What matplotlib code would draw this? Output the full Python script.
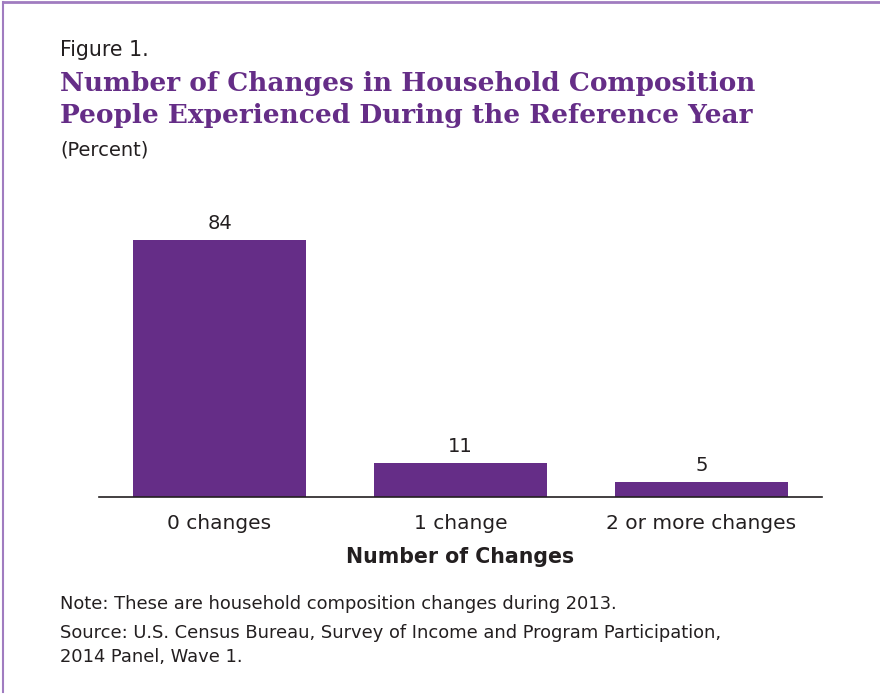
import matplotlib
matplotlib.use("Agg")
import matplotlib.pyplot as plt
from matplotlib.lines import Line2D

categories = ["0 changes", "1 change", "2 or more changes"]
values = [84, 11, 5]
value_labels = ["84", "11", "5"]

purple = "#652d87"
border = "#a07cc0"
text_col = "#231f20"

W, H = 880, 694
fig = plt.figure(figsize=(W / 100, H / 100), dpi=100)
fig.patch.set_facecolor("white")

def fx(px):
    return px / W

def fy(py):
    return 1 - py / H

# frame lines (top and left)
fig.add_artist(Line2D([fx(3), 1], [fy(1.5), fy(1.5)], color=border, lw=2))
fig.add_artist(Line2D([fx(3), fx(3)], [fy(1.5), fy(692)], color=border, lw=1.5))

sans = "DejaVu Sans"
fig.text(fx(60), fy(50), "Figure 1.", fontsize=14.8, family=sans, color=text_col, va="center")
fig.text(fx(60), fy(84), "Number of Changes in Household Composition",
         fontsize=19, family="DejaVu Serif", weight="bold", color=purple, va="center")
fig.text(fx(60), fy(116), "People Experienced During the Reference Year",
         fontsize=19, family="DejaVu Serif", weight="bold", color=purple, va="center")
fig.text(fx(60), fy(150), "(Percent)", fontsize=14, family=sans, color=text_col, va="center")

ax = fig.add_axes([fx(99), fy(497), fx(822) - fx(99), fy(200) - fy(497)])
x = range(len(categories))
bars = ax.bar(x, values, width=0.716, color=purple)
ax.set_xlim(-0.5, 2.5)
ax.set_ylim(0, 97)
for b, lab in zip(bars, value_labels):
    ax.annotate(lab, (b.get_x() + b.get_width() / 2, b.get_height()),
                xytext=(0, 5), textcoords="offset points", ha="center", va="bottom",
                fontsize=14, family=sans, color=text_col)
for s in ["top", "right", "left"]:
    ax.spines[s].set_visible(False)
ax.spines["bottom"].set_color(text_col)
ax.spines["bottom"].set_linewidth(1.2)
ax.set_yticks([])
ax.set_xticks(list(x))
ax.set_xticklabels(categories, fontsize=14.5, family=sans, color=text_col)
ax.tick_params(axis="x", length=0, pad=12)
ax.set_xlabel("Number of Changes", fontsize=14.8, family=sans, weight="bold",
              color=text_col, labelpad=10)

fig.text(fx(60), fy(604), "Note: These are household composition changes during 2013.",
         fontsize=12.9, family=sans, color=text_col, va="center")
fig.text(fx(60), fy(633), "Source: U.S. Census Bureau, Survey of Income and Program Participation,",
         fontsize=12.9, family=sans, color=text_col, va="center")
fig.text(fx(60), fy(657), "2014 Panel, Wave 1.",
         fontsize=12.9, family=sans, color=text_col, va="center")

fig.savefig("out.png", dpi=100)
